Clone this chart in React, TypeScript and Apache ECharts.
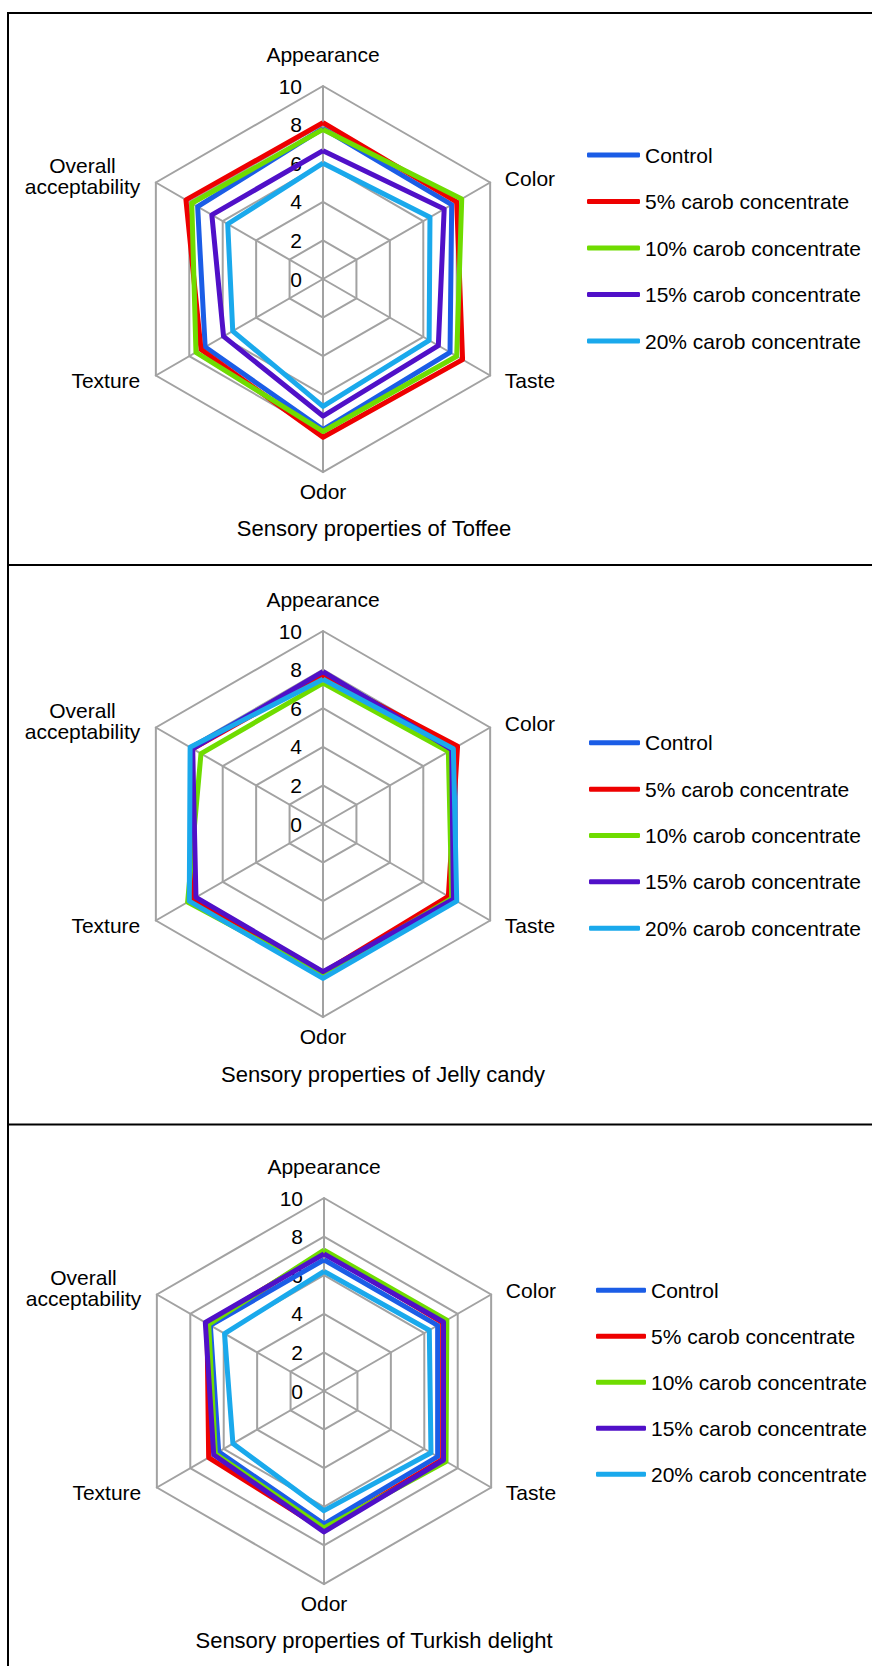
import React, { useEffect, useRef } from 'react';
import * as echarts from 'echarts';

const FONT = 'Arial, "Liberation Sans", Helvetica, sans-serif';

// Indicators in ECharts order (counter-clockwise starting at the top)
const indicators = ['Appearance', 'Overall acceptability', 'Texture', 'Odor', 'Taste', 'Color'];
const axisMin = 0;
const axisMax = 10;
const axisSplits = 5; // ticks 0,2,4,6,8,10

const seriesNames = [
  'Control',
  '5% carob concentrate',
  '10% carob concentrate',
  '15% carob concentrate',
  '20% carob concentrate',
];
const seriesColors = ['#1b5de6', '#ee0000', '#6fdc00', '#5010c8', '#1aa9ec'];

const chartTitles = [
  'Sensory properties of Toffee',
  'Sensory properties of Jelly candy',
  'Sensory properties of Turkish delight',
];

// Values: [Appearance, Overall acceptability, Texture, Odor, Taste, Color]
const toffeeControl = [7.8, 7.5, 7.05, 7.8, 7.6, 7.7];
const toffee5 = [8.1, 8.2, 7.3, 8.2, 8.35, 8.0];
const toffee10 = [7.75, 7.85, 7.6, 7.9, 8.0, 8.3];
const toffee15 = [6.65, 6.65, 5.95, 7.1, 6.9, 7.25];
const toffee20 = [6.0, 5.7, 5.4, 6.6, 6.35, 6.4];

const jellyControl = [7.8, 7.9, 7.85, 7.75, 7.9, 7.9];
const jelly5 = [7.7, 7.8, 7.8, 7.7, 7.5, 8.05];
const jelly10 = [7.3, 7.3, 8.1, 7.8, 7.7, 7.5];
const jelly15 = [7.9, 7.8, 7.6, 7.65, 7.8, 7.7];
const jelly20 = [7.5, 7.95, 8.0, 8.0, 8.0, 7.8];

const turkishControl = [6.8, 6.8, 6.3, 6.9, 6.8, 6.8];
const turkish5 = [7.2, 7.0, 6.9, 7.2, 7.1, 7.1];
const turkish10 = [7.3, 6.9, 6.5, 7.1, 7.3, 7.35];
const turkish15 = [7.1, 7.1, 6.6, 7.3, 7.15, 7.15];
const turkish20 = [6.2, 5.95, 5.45, 6.2, 6.4, 6.3];

const chartData = [
  [toffeeControl, toffee5, toffee10, toffee15, toffee20],
  [jellyControl, jelly5, jelly10, jelly15, jelly20],
  [turkishControl, turkish5, turkish10, turkish15, turkish20],
];

// layout
const radarCenters = [
  [323, 279],
  [323, 824],
  [324, 1391],
];
const radarRadius = 193;
const nameGaps = [21, 18, 18, 9, 17, 17];
// rich style key used for each indicator name (vertical nudges)
const nameStyles = ['', 'dn', 'up', '', 'up', 'dn'];
const legendLayout = [
  { left: 587, top: 144.5, w: 53, gap: 25.5 },
  { left: 589, top: 732.3, w: 51, gap: 25.35 },
  { left: 596, top: 1279.8, w: 50, gap: 25 },
];
const titlePos = [
  [374, 528],
  [383, 1074],
  [374, 1640],
];

function formatName(name: string, style: string) {
  if (!style) return name;
  const words = name.split(' ');
  if (words.length > 1) {
    return words.map((w, i) => '{' + (i === 0 ? style : 'c') + '|' + w + '}').join('\n');
  }
  return '{' + style + '|' + name + '}';
}

function buildRadar(i: number) {
  const gridColor = '#a2a2a2';
  const base = { fontSize: 21, fontFamily: FONT, color: '#000', align: 'center' };
  return {
    center: radarCenters[i],
    radius: radarRadius,
    startAngle: 90,
    splitNumber: axisSplits,
    shape: 'polygon',
    nameGap: 15,
    axisName: {
      color: '#000',
      fontSize: 21,
      fontFamily: FONT,
      rich: {
        c: { ...base, lineHeight: 26 },
        dn: { ...base, lineHeight: 26, padding: [9, 0, 0, 0] },
        up: { ...base, lineHeight: 24, padding: [0, 0, 8, 0] },
      },
    },
    axisLine: { show: true, lineStyle: { color: gridColor, width: 2 } },
    splitLine: { show: true, lineStyle: { color: gridColor, width: 2 } },
    splitArea: { show: false },
    axisTick: { show: false },
    axisLabel: { show: false },
    indicator: indicators.map((name, k) => ({
      name: formatName(name, nameStyles[k]),
      min: axisMin,
      max: axisMax,
      nameGap: nameGaps[k],
      axisLabel:
        k === 0
          ? { show: true, fontSize: 21, color: '#000', fontFamily: FONT, margin: 21 }
          : { show: false },
    })),
  };
}

export default function App() {
  const ref = useRef<HTMLDivElement>(null);
  useEffect(() => {
    if (!ref.current) return;
    const chart = echarts.init(ref.current, null, { renderer: 'svg' });
    const series = chartData.map((sets, i) => ({
      type: 'radar',
      radarIndex: i,
      symbol: 'none',
      data: sets.map((vals, s) => ({
        name: seriesNames[s],
        value: vals,
        symbol: 'none',
        itemStyle: { color: seriesColors[s] },
        lineStyle: { color: seriesColors[s], width: 5 },
      })),
    }));
    const lineStyle = { stroke: '#000', lineWidth: 2 };
    chart.setOption({
      animation: false,
      backgroundColor: '#fff',
      radar: [0, 1, 2].map(buildRadar),
      legend: legendLayout.map((l) => ({
        orient: 'vertical',
        left: l.left,
        top: l.top,
        padding: 0,
        itemWidth: l.w,
        itemHeight: 5,
        itemGap: l.gap,
        icon: 'roundRect',
        selectedMode: false,
        data: seriesNames,
        itemStyle: { borderWidth: 0 },
        textStyle: { fontSize: 21, color: '#000', fontFamily: FONT, lineHeight: 21 },
      })),
      series,
      graphic: [
        { type: 'line', shape: { x1: 8, y1: 13, x2: 872, y2: 13 }, style: lineStyle },
        { type: 'line', shape: { x1: 8, y1: 12, x2: 8, y2: 1666 }, style: lineStyle },
        { type: 'line', shape: { x1: 8, y1: 565, x2: 872, y2: 565 }, style: lineStyle },
        { type: 'line', shape: { x1: 8, y1: 1124.5, x2: 872, y2: 1124.5 }, style: lineStyle },
        ...chartTitles.map((t, i) => ({
          type: 'text',
          x: titlePos[i][0],
          y: titlePos[i][1],
          style: {
            text: t,
            fill: '#000',
            font: '22px ' + FONT,
            textAlign: 'center',
            textVerticalAlign: 'middle',
          },
        })),
      ],
    });
    return () => chart.dispose();
  }, []);
  return (
    <div
      ref={ref}
      style={{ position: 'absolute', left: 0, top: 0, width: 872, height: 1666, background: '#fff' }}
    />
  );
}
